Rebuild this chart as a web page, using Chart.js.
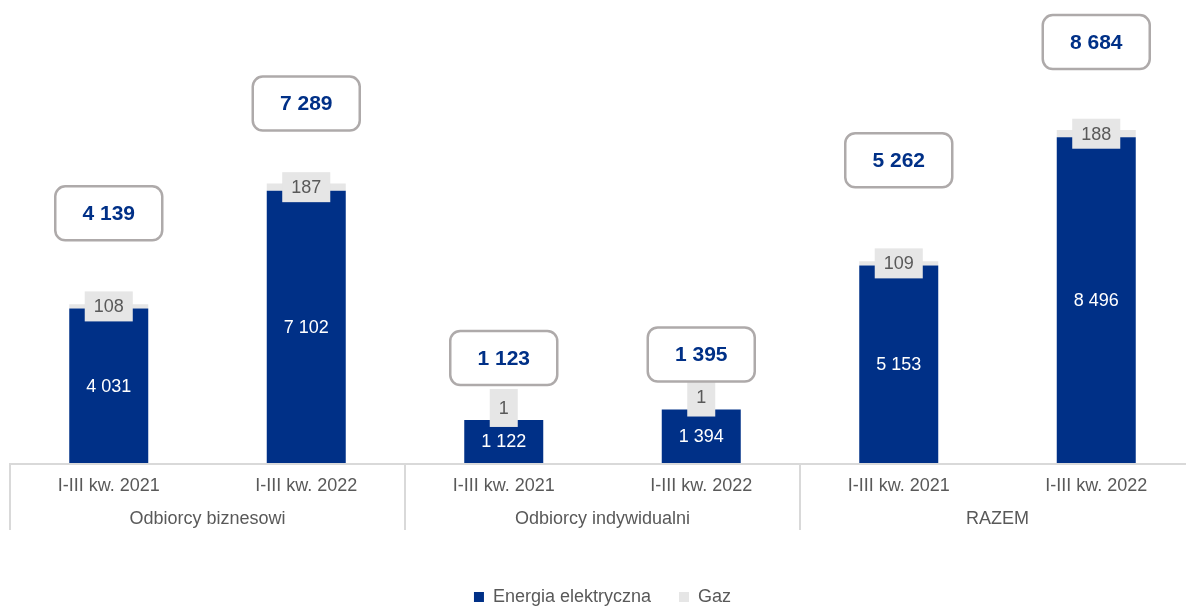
<!DOCTYPE html>
<html><head><meta charset="utf-8">
<script src="https://cdn.jsdelivr.net/npm/chart.js@4.4.1/dist/chart.umd.min.js"></script>
<style>
html,body{margin:0;padding:0;overflow:hidden;background:#fff;width:1186px;height:606px}
#wrap{position:relative;width:1195px;height:616px}
</style></head>
<body><div id="wrap"><canvas id="c" width="1195" height="616"></canvas></div>
<script>
const categories = ['I-III kw. 2021','I-III kw. 2022','I-III kw. 2021','I-III kw. 2022','I-III kw. 2021','I-III kw. 2022'];
const groups = ['Odbiorcy biznesowi','Odbiorcy indywidualni','RAZEM'];
const energia = [4031, 7102, 1122, 1394, 5153, 8496];
const gaz = [108, 187, 1, 1, 109, 188];
const totals = [4139, 7289, 1123, 1395, 5262, 8684];

const BLUE = '#003087';
const GRAY = '#e6e6e6';
const TEXT = '#595959';
const FONT = '"Liberation Sans", Arial, sans-serif';

function fmt(n){ return String(n).replace(/\B(?=(\d{3})+(?!\d))/g, ' '); }

function roundRect(ctx, x, y, w, h, r){
  ctx.beginPath();
  ctx.moveTo(x+r, y);
  ctx.lineTo(x+w-r, y); ctx.arcTo(x+w, y, x+w, y+r, r);
  ctx.lineTo(x+w, y+h-r); ctx.arcTo(x+w, y+h, x+w-r, y+h, r);
  ctx.lineTo(x+r, y+h); ctx.arcTo(x, y+h, x, y+h-r, r);
  ctx.lineTo(x, y+r); ctx.arcTo(x, y, x+r, y, r);
  ctx.closePath();
}

const decor = {
  id: 'decor',
  beforeDatasetsDraw(chart, args, opts){
    const ctx = chart.ctx, ca = chart.chartArea, xs = chart.scales.x;
    const step = xs.getPixelForValue(1) - xs.getPixelForValue(0);
    ctx.save();
    ctx.strokeStyle = '#d9d9d9';
    ctx.lineWidth = 2;
    ctx.beginPath();
    ctx.moveTo(ca.left, ca.bottom + 1); ctx.lineTo(ca.right, ca.bottom + 1);
    ctx.stroke();
    const bounds = [xs.getPixelForValue(0) - step/2, xs.getPixelForValue(1) + step/2, xs.getPixelForValue(3) + step/2, xs.getPixelForValue(5) + step/2];
    bounds.forEach(b => {
      ctx.beginPath();
      ctx.moveTo(Math.round(b), ca.bottom); ctx.lineTo(Math.round(b), ca.bottom + 67);
      ctx.stroke();
    });
    ctx.restore();
  },
  afterDatasetsDraw(chart, args, opts){
    const ctx = chart.ctx;
    const m0 = chart.getDatasetMeta(0).data, m1 = chart.getDatasetMeta(1).data;
    ctx.save();
    ctx.textAlign = 'center';
    ctx.textBaseline = 'middle';
    for (let i = 0; i < categories.length; i++) {
      const e = m0[i], g = m1[i];
      // energy label
      ctx.font = '18px ' + FONT;
      ctx.fillStyle = '#ffffff';
      ctx.fillText(fmt(energia[i]), e.x, (e.y + e.base) / 2 + 1);
      // gas label
      const segH = g.base - g.y;
      const tiny = segH < 3;
      const cy = tiny ? g.y - 12 : (g.y + g.base) / 2;
      const txt = fmt(gaz[i]);
      const tw = ctx.measureText(txt).width;
      const bw = tw + 18, bh = tiny ? 38 : 30;
      ctx.fillStyle = GRAY;
      ctx.fillRect(g.x - bw/2, cy - bh/2, bw, bh);
      ctx.fillStyle = TEXT;
      ctx.fillText(txt, g.x, cy + 1);
      // total box
      const ty = g.y - opts.totalOffsets[i];
      ctx.fillStyle = '#ffffff';
      ctx.strokeStyle = '#aeaaaa';
      ctx.lineWidth = 2.5;
      roundRect(ctx, g.x - 53.5, ty - 27, 107, 54, 10);
      ctx.fill(); ctx.stroke();
      ctx.font = 'bold 21px ' + FONT;
      ctx.fillStyle = BLUE;
      ctx.fillText(fmt(totals[i]), g.x, ty + 1);
    }
    ctx.restore();
  }
};

new Chart(document.getElementById('c'), {
  type: 'bar',
  data: {
    labels: categories,
    datasets: [
      { label: 'Energia elektryczna', data: energia, backgroundColor: BLUE, borderWidth: 0, xAxisID: 'x', yAxisID: 'y', barPercentage: 0.8, categoryPercentage: 0.5 },
      { label: 'Gaz', data: gaz, backgroundColor: GRAY, borderWidth: 0, xAxisID: 'x', yAxisID: 'y', barPercentage: 0.8, categoryPercentage: 0.5 }
    ]
  },
  options: {
    responsive: false,
    animation: false,
    devicePixelRatio: 1,
    layout: { padding: { top: 3, left: 10, right: 0, bottom: 0 } },
    scales: {
      x: {
        stacked: true,
        weight: 0,
        grid: { display: false, drawTicks: false },
        border: { display: false },
        ticks: { font: { family: FONT, size: 18 }, color: TEXT, padding: 12, autoSkip: false, maxRotation: 0 },
        afterFit(s){ s.height = 34; }
      },
      x2: {
        type: 'category',
        position: 'bottom',
        labels: groups,
        offset: true,
        weight: 1,
        grid: { display: false, drawTicks: false },
        border: { display: false },
        ticks: { font: { family: FONT, size: 18 }, color: TEXT, padding: 11, autoSkip: false, maxRotation: 0 },
        afterFit(s){ s.height = 63; }
      },
      y: {
        stacked: true,
        display: false,
        min: 0,
        max: 12000
      }
    },
    plugins: {
      legend: {
        position: 'bottom',
        labels: { font: { family: FONT, size: 18 }, color: TEXT, boxWidth: 10, boxHeight: 10, padding: 28 }
      },
      tooltip: { enabled: false },
      decor: { totalOffsets: [91, 80, 62, 55, 101, 88] }
    }
  },
  plugins: [decor]
});
</script>
</body></html>
